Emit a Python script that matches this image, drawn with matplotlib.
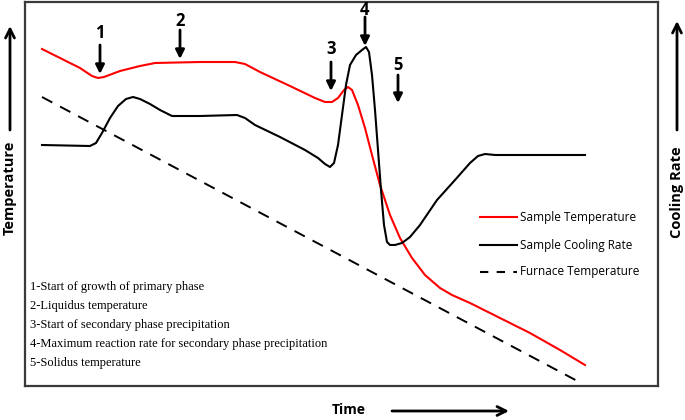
import numpy as np
import matplotlib
matplotlib.use('Agg')
import matplotlib.pyplot as plt

# curves (x = time, y = screen position, top = 0)
temp_x = [42, 60, 80, 92, 98, 104, 120, 140, 155, 200, 235, 245, 260, 290, 315, 325, 332,
          338, 344, 348, 352, 358, 365, 372, 380, 390, 400, 412, 425, 440, 452, 470, 500,
          530, 560, 585]
temp_y = [49, 58, 68, 76, 78, 77, 71, 66, 63, 62, 62, 64, 72, 86, 98, 102, 102,
          98, 90, 87, 90, 105, 128, 155, 185, 215, 238, 258, 275, 288, 295, 303, 318,
          333, 350, 365]

rate_x = [42, 90, 96, 102, 110, 118, 126, 133, 140, 150, 160, 172, 200, 237, 245, 255, 280,
          305, 318, 325, 330, 334, 338, 342, 346, 350, 356, 362, 366, 369, 372, 375, 378,
          381, 384, 387, 390, 395, 402, 410, 420, 437, 455, 470, 478, 485, 495, 585]
rate_y = [145, 146, 143, 133, 118, 106, 99, 97, 99, 104, 110, 116, 116, 115, 118, 125, 137,
          150, 158, 164, 167, 163, 145, 115, 85, 65, 55, 50, 47, 52, 75, 110, 150,
          190, 225, 242, 245, 245, 243, 237, 225, 200, 180, 163, 156, 154, 155, 155]

furnace_x = [42, 583]
furnace_y = [97, 384]

# event markers: label, x, arrow top, arrow tip, label y
events = ['1', '2', '3', '4', '5']
ev_x = [100, 180, 331, 365, 398]
ev_top = [45, 30, 62, 17, 75]
ev_tip = [74, 59, 91, 46, 103]
ev_lab = [33, 21, 49, 10, 65]

legend_names = ['Sample Temperature', 'Sample Cooling Rate', 'Furnace Temperature']
notes = ['1-Start of growth of primary phase',
         '2-Liquidus temperature',
         '3-Start of secondary phase precipitation',
         '4-Maximum reaction rate for secondary phase precipitation',
         '5-Solidus temperature']

W, H = 685, 420
fig = plt.figure(figsize=(W/100, H/100), dpi=100)

# background axes in pixel units for the outside labels
bg = fig.add_axes([0, 0, 1, 1])
bg.set_xlim(0, W)
bg.set_ylim(H, 0)
bg.axis('off')

L, T, R, B = 25, 2, 658, 386
ax = fig.add_axes([L/W, 1 - B/H, (R-L)/W, (B-T)/H])
ax.set_facecolor('none')
ax.set_xlim(L, R)
ax.set_ylim(B, T)
ax.set_xticks([])
ax.set_yticks([])
for s in ax.spines.values():
    s.set_color('#3a3a3a')
    s.set_linewidth(1.6)

ax.plot(temp_x, temp_y, color='#ff0000', lw=1.5, solid_joinstyle='round')
ax.plot(rate_x, rate_y, color='black', lw=1.5, solid_joinstyle='round')
ax.plot(furnace_x, furnace_y, color='black', lw=1.4, dashes=(6, 4.5))

for lab, x, t0, t1, ly in zip(events, ev_x, ev_top, ev_tip, ev_lab):
    ax.annotate('', xy=(x, t1), xytext=(x, t0),
                arrowprops=dict(arrowstyle='-|>', color='black', lw=2, mutation_scale=13,
                                shrinkA=0, shrinkB=0))
    ax.text(x, ly, lab, ha='center', va='center', fontsize=12, fontweight='bold',
            family='Open Sans', color='black')

# legend drawn by hand
leg_y = [217, 245, 272]
styles = [dict(color='#ff0000'), dict(color='black'), dict(color='black', dashes=(4, 4))]
for name, y, st in zip(legend_names, leg_y, styles):
    ax.plot([480, 517], [y, y], lw=1.5, **st)
    ax.text(520, y, name, va='center', ha='left', fontsize=8.5, family='Open Sans')

for i, n in enumerate(notes):
    ax.text(30, 287 + i*19, n, va='center', ha='left', fontsize=9,
            family='Liberation Serif', fontstretch='condensed')

# axis titles with arrows
bg.text(10, 188, 'Temperature', rotation=90, ha='center', va='center',
        fontsize=10.5, fontweight='bold', family='Open Sans')
bg.annotate('', xy=(10, 26), xytext=(10, 130),
            arrowprops=dict(arrowstyle='->', color='black', lw=2, mutation_scale=16,
                            shrinkA=0, shrinkB=0))
bg.text(677, 192, 'Cooling Rate', rotation=90, ha='center', va='center',
        fontsize=10.5, fontweight='bold', family='Open Sans')
bg.annotate('', xy=(677, 21), xytext=(677, 130),
            arrowprops=dict(arrowstyle='->', color='black', lw=2, mutation_scale=16,
                            shrinkA=0, shrinkB=0))
bg.text(349, 410, 'Time', ha='center', va='center', fontsize=10, fontweight='bold',
        family='Open Sans')
bg.annotate('', xy=(509, 411), xytext=(392, 411),
            arrowprops=dict(arrowstyle='->', color='black', lw=2, mutation_scale=16,
                            shrinkA=0, shrinkB=0))

fig.savefig('out.png', dpi=100)
